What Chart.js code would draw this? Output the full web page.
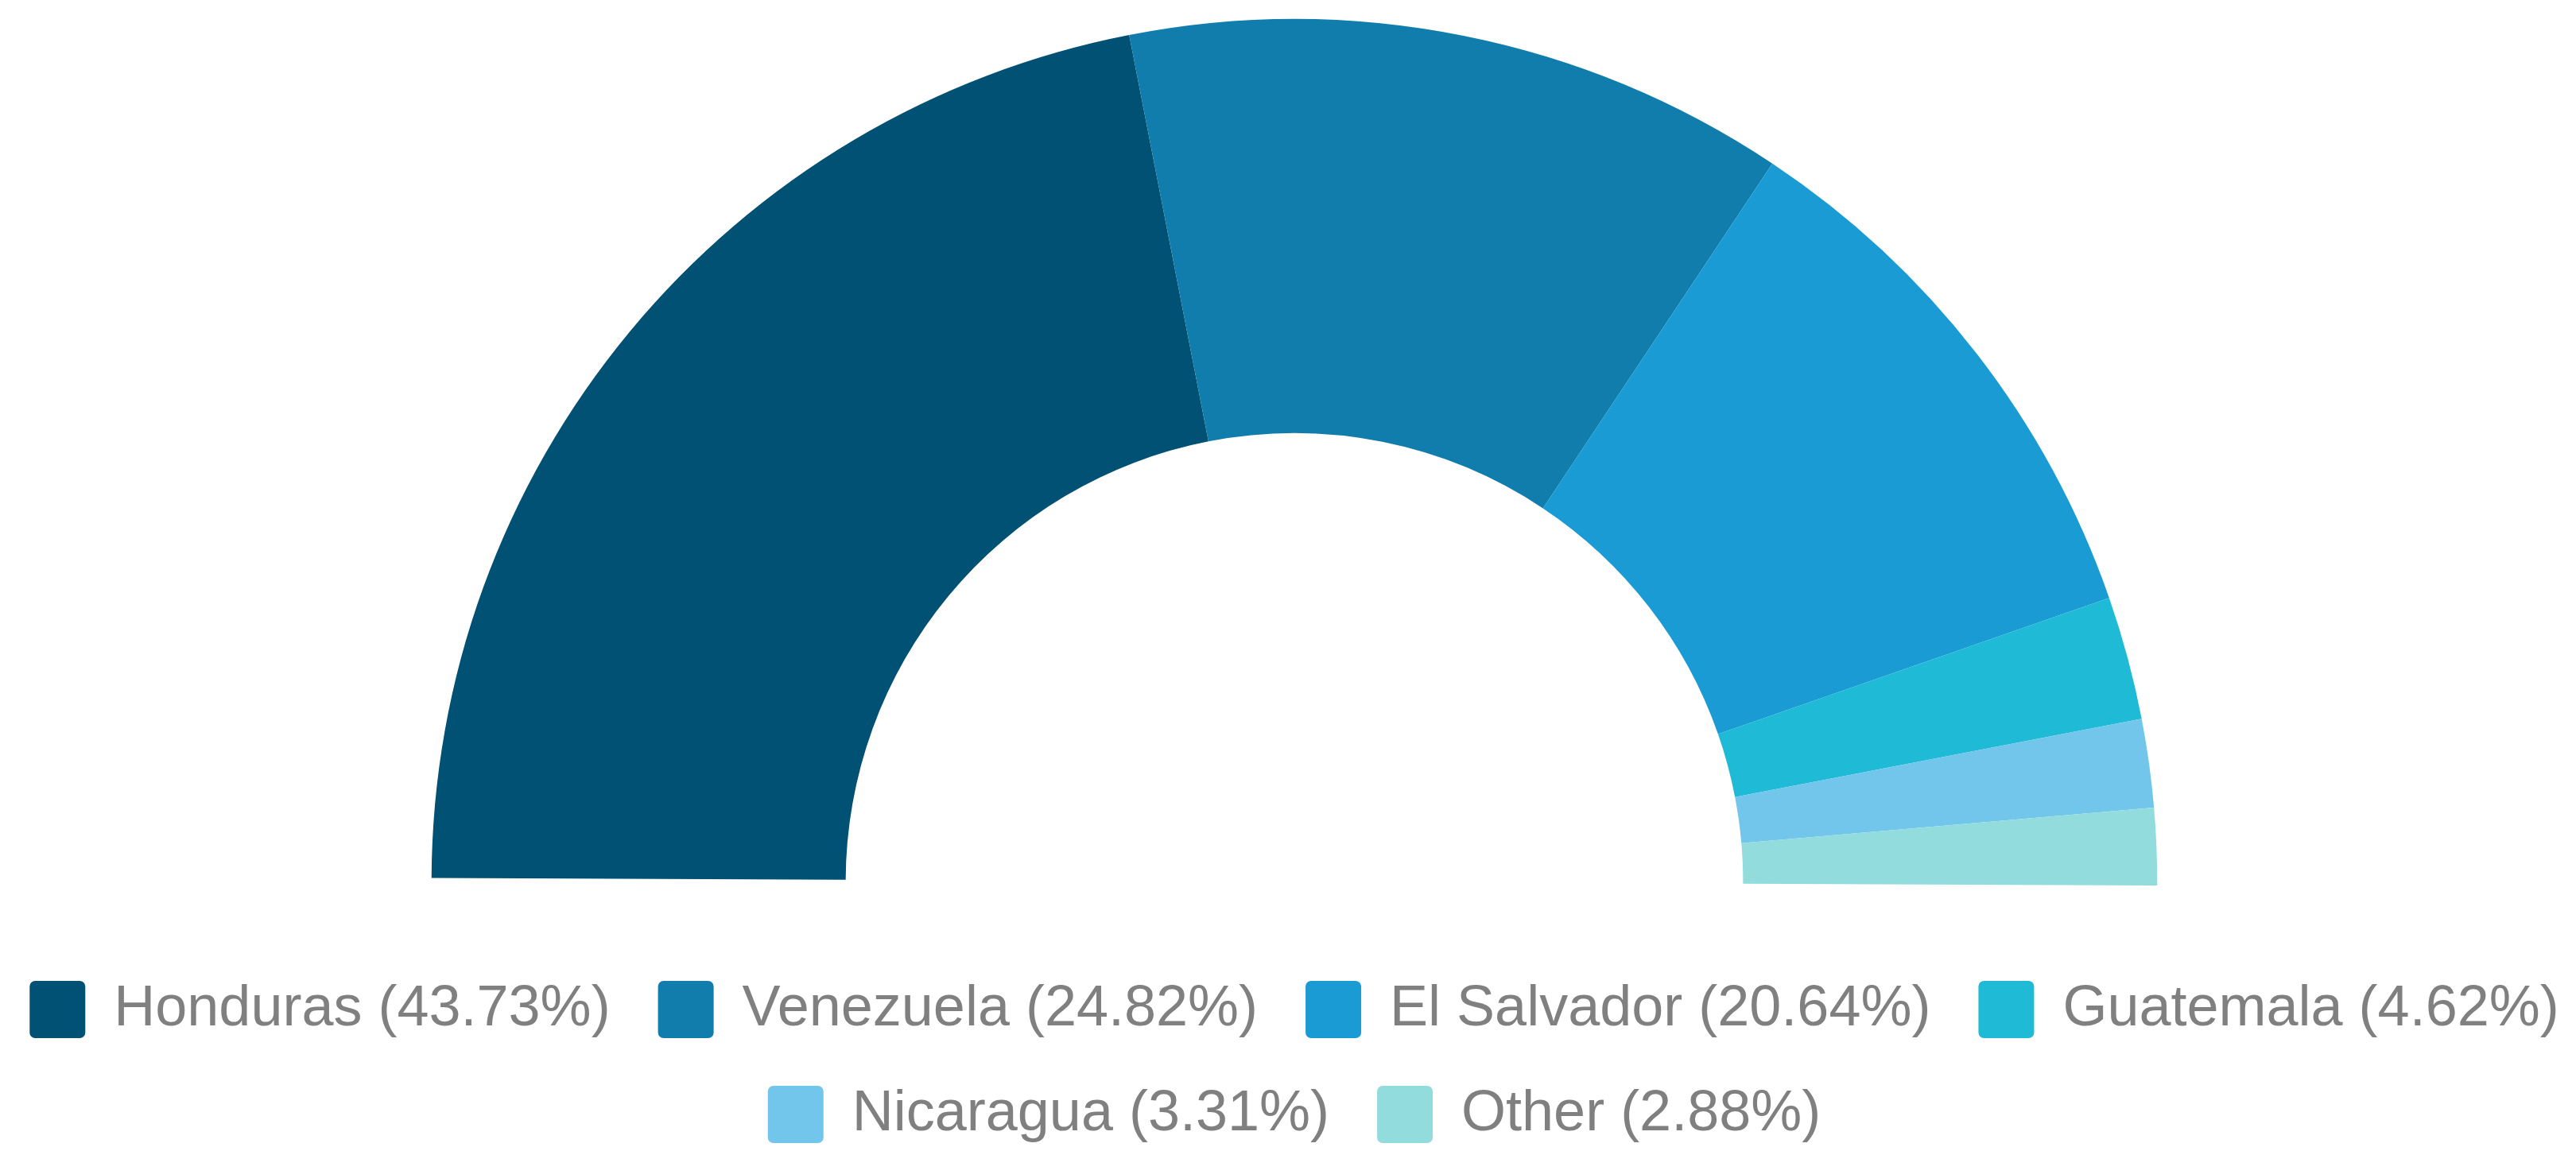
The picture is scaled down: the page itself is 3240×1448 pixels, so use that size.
<!DOCTYPE html>
<html>
<head>
<meta charset="utf-8">
<script src="https://cdn.jsdelivr.net/npm/chart.js@4/dist/chart.umd.min.js"></script>
<style>
    html, body { margin: 0; padding: 0; background: #ffffff; }
    #wrap { width: 3240px; height: 1448px; }
</style>
</head>
<body>
<div id="wrap"><canvas id="halfDonut"></canvas></div>
<script>
const countries = ['Honduras', 'Venezuela', 'El Salvador', 'Guatemala', 'Nicaragua', 'Other'];
const shares = [43.73, 24.82, 20.64, 4.62, 3.31, 2.88];
const colors = ['#015174', '#117dad', '#1a9bd4', '#1ebad6', '#72c6ec', '#93dcde'];

// the legend wraps a bit too early (it keeps extra padding spare), give it some room
const LegendBox = Chart.Legend._element;
const fitRows = LegendBox.prototype._fitRows;
LegendBox.prototype._fitRows = function (...args) {
    const w = this.maxWidth;
    this.maxWidth = w + 300;
    const h = fitRows.apply(this, args);
    this.maxWidth = w;
    return h;
};
const drawLegend = LegendBox.prototype._draw;
LegendBox.prototype._draw = function () {
    // widen both sides equally so centring stays the same
    this.left -= 150;
    this.right += 150;
    drawLegend.call(this);
    this.left += 150;
    this.right -= 150;
};

const ctx = document.getElementById('halfDonut');

const donut = new Chart(ctx, {
    type: 'doughnut',
    data: {
        labels: countries,
        datasets: [
        {
            data: shares,
            backgroundColor: colors,
            borderWidth: 0
        }
    ]
    }, options: {
        responsive: true,
        maintainAspectRatio: false,
        animation: false,
        rotation: -89.75,
        circumference: 180,
        cutout: '52%',
        layout: {
            padding: {
                top: 24,
                left: 16
            }
        },
        plugins: {
            tooltip: {
                enabled: false
            },
            legend: {
                position: 'bottom',
                title: {
                    display: true,
                    text: '',
                    font: {
                        size: 10,
                        lineHeight: 1
                    },
                    padding: {
                        top: 50,
                        bottom: 0
                    }
                },
                labels: {
                    boxWidth: 70,
                    boxHeight: 72,
                    padding: 60,
                    useBorderRadius: true,
                    borderRadius: 7,
                    color: '#808080',
                    font: {
                        family: "'Liberation Sans', Arial, sans-serif",
                        size: 72
                    },
                    generateLabels: function (chart) {
                        return countries.map((name, i) => ({
                            text: name + ' (' + shares[i].toFixed(2) + '%)',
                            fillStyle: colors[i],
                            strokeStyle: colors[i],
                            lineWidth: 0,
                            borderRadius: 7,
                            fontColor: '#808080',
                            hidden: false,
                            index: i
                        }));
                    }
                }
            }
        }
    }
});
</script>
</body>
</html>
